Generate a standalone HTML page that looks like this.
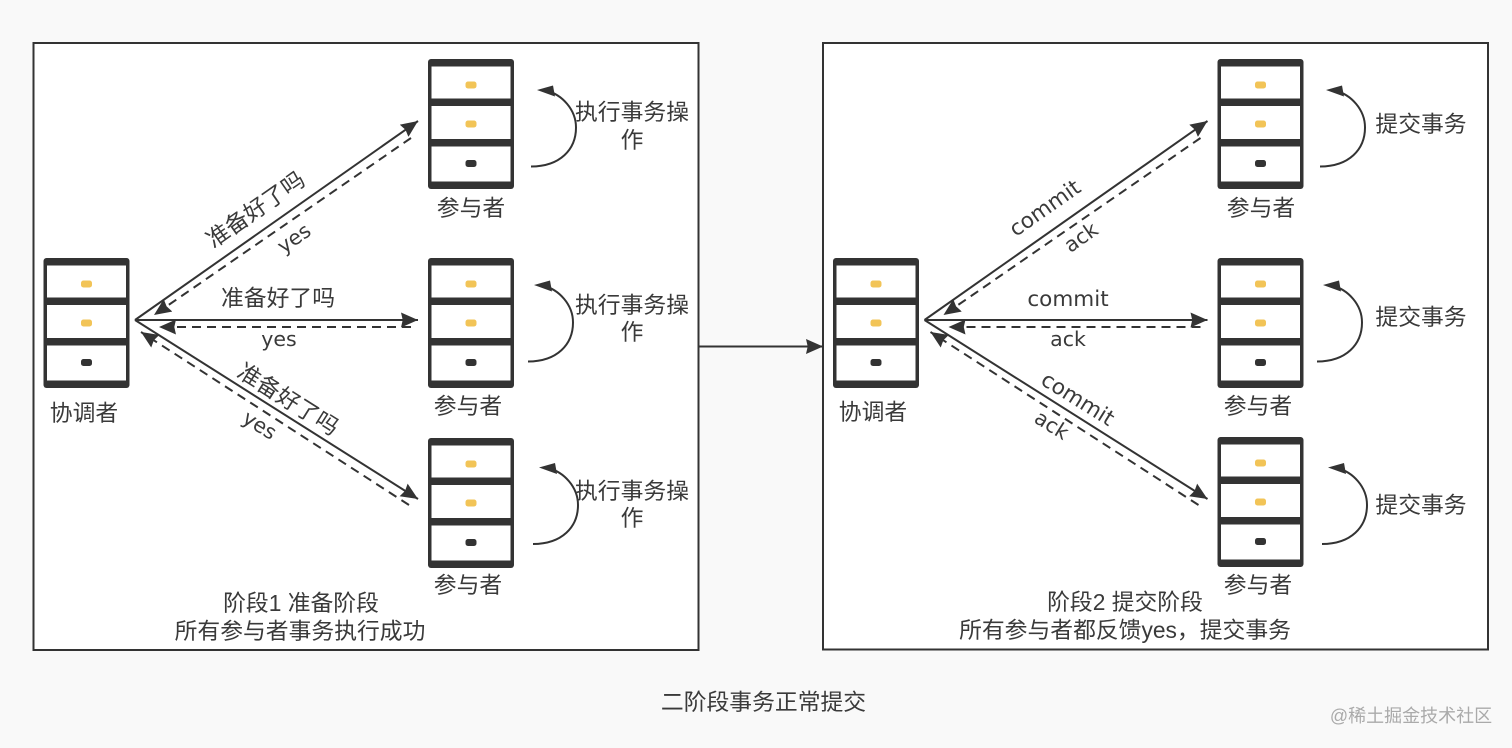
<!DOCTYPE html>
<html><head><meta charset="utf-8"><style>
html,body{margin:0;padding:0;background:#f9f9f9}
svg{display:block}
text{font-family:"Liberation Sans","Noto Sans CJK SC",sans-serif;font-size:22.8px;fill:#3a3a3a;text-anchor:middle}
text.l{font-family:"DejaVu Sans","Liberation Sans",sans-serif;font-size:21.5px}
text.s{font-family:"DejaVu Sans","Liberation Sans",sans-serif;font-size:20.5px}
</style></head><body>
<svg width="1512" height="748" viewBox="0 0 1512 748" xmlns="http://www.w3.org/2000/svg">
<defs>
<g id="srv">
<rect x="0" y="0" width="86" height="130" rx="3" fill="#333"/>
<rect x="3.5" y="7.5" width="79" height="32" fill="#fff"/>
<rect x="3.5" y="47" width="79" height="33" fill="#fff"/>
<rect x="3.5" y="87.5" width="79" height="35" fill="#fff"/>
<rect x="37.5" y="22.5" width="11" height="7" rx="2.5" fill="#f2c457"/>
<rect x="37.5" y="61.5" width="11" height="7" rx="2.5" fill="#f2c457"/>
<rect x="37.5" y="101" width="11" height="7" rx="2.5" fill="#333"/>
</g>
<marker id="a" viewBox="0 0 10 10" refX="10" refY="5" markerWidth="17" markerHeight="15" markerUnits="userSpaceOnUse" orient="auto" preserveAspectRatio="none"><path d="M0 0L10 5L0 10L1 5Z" fill="#333"/></marker>
<g id="arrows" fill="none" stroke="#333" stroke-width="2">
<path d="M0 0L283 -199" marker-end="url(#a)"/>
<path d="M276 -182L19 -5" stroke-dasharray="9 6" marker-end="url(#a)"/>
<path d="M0 0H283" marker-end="url(#a)"/>
<path d="M276 7H24" stroke-dasharray="9 6" marker-end="url(#a)"/>
<path d="M0 0L283 179" marker-end="url(#a)"/>
<path d="M274 185L6 12" stroke-dasharray="9 6" marker-end="url(#a)"/>
</g>
<g id="loop">
<path d="M0 0C29 0 45 -17 45 -39C45 -57 31 -72 15 -76" fill="none" stroke="#333" stroke-width="2"/>
<path d="M6 -76.5L22 -81L24 -70Z" fill="#333"/>
</g>
</defs>

<rect x="33.5" y="43" width="665" height="607" fill="#fff" stroke="#333" stroke-width="2"/>
<rect x="823" y="43" width="665" height="606.5" fill="#fff" stroke="#333" stroke-width="2"/>

<use href="#srv" x="428" y="59"/>
<use href="#srv" x="428" y="258"/>
<use href="#srv" x="428" y="438"/>
<use href="#srv" x="43.5" y="258"/>
<use href="#srv" x="1217.5" y="59"/>
<use href="#srv" x="1217.5" y="258"/>
<use href="#srv" x="1217.5" y="437"/>
<use href="#srv" x="833" y="258"/>

<use href="#arrows" x="135" y="320"/>
<use href="#arrows" x="924.5" y="320"/>

<use href="#loop" x="531" y="166.5"/>
<use href="#loop" x="528" y="361.5"/>
<use href="#loop" x="533" y="544"/>
<use href="#loop" x="1320" y="166.5"/>
<use href="#loop" x="1317" y="361.5"/>
<use href="#loop" x="1322" y="544"/>

<path d="M698 346.5H823" fill="none" stroke="#333" stroke-width="2" marker-end="url(#a)"/>

<text x="471" y="216">参与者</text>
<text x="468" y="414">参与者</text>
<text x="468" y="593">参与者</text>
<text x="84" y="421">协调者</text>
<text x="1261" y="216">参与者</text>
<text x="1258" y="414">参与者</text>
<text x="1258" y="593">参与者</text>
<text x="873" y="420">协调者</text>

<text x="632" y="120">执行事务操</text><text x="632" y="148">作</text>
<text x="632" y="313">执行事务操</text><text x="632" y="340">作</text>
<text x="632" y="499">执行事务操</text><text x="632" y="526">作</text>
<text x="1421" y="132">提交事务</text>
<text x="1421" y="325">提交事务</text>
<text x="1421" y="513">提交事务</text>

<text transform="translate(260 216) rotate(-35)" x="0" y="0">准备好了吗</text>
<text class="s" transform="translate(298 244) rotate(-35)" x="0" y="0">yes</text>
<text x="278" y="306">准备好了吗</text>
<text class="s" x="279" y="346">yes</text>
<text transform="translate(284 406) rotate(32)" x="0" y="0">准备好了吗</text>
<text class="s" transform="translate(256 431) rotate(32)" x="0" y="0">yes</text>

<text class="l" transform="translate(1049 214) rotate(-35)" x="0" y="0">commit</text>
<text class="s" transform="translate(1085 243) rotate(-35)" x="0" y="0">ack</text>
<text class="l" x="1068" y="306">commit</text>
<text class="s" x="1068" y="346">ack</text>
<text class="l" transform="translate(1074 405) rotate(32)" x="0" y="0">commit</text>
<text class="s" transform="translate(1048 431) rotate(32)" x="0" y="0">ack</text>

<text x="301" y="611">阶段1 准备阶段</text>
<text x="300" y="639">所有参与者事务执行成功</text>
<text x="1125" y="610">阶段2 提交阶段</text>
<text x="1125" y="638">所有参与者都反馈yes，提交事务</text>
<text x="763.5" y="710">二阶段事务正常提交</text>
<text x="1411" y="722" style="font-size:18px;fill:#aaa">@稀土掘金技术社区</text>
</svg>
</body></html>
